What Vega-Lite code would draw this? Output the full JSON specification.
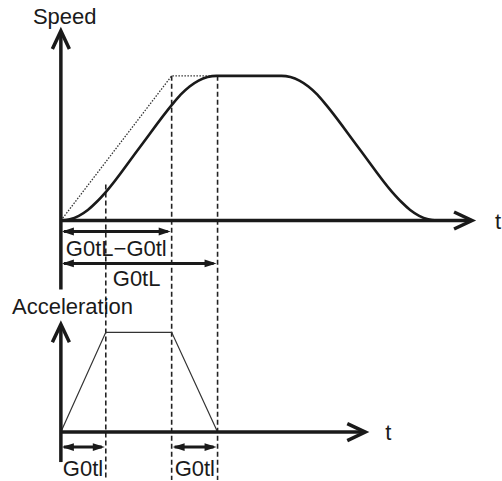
{
  "$schema": "https://vega.github.io/schema/vega-lite/v6.json",
  "width": 502,
  "height": 481,
  "autosize": {"type": "fit", "contains": "padding"},
  "padding": 0,
  "background": "white",
  "config": {"view": {"stroke": null}},
  "datasets": {
    "axes": [
      {"x": 61, "y": 221, "x2": 470, "y2": 221},
      {"x": 61, "y": 34, "x2": 61, "y2": 290},
      {"x": 61, "y": 433, "x2": 363, "y2": 433},
      {"x": 61, "y": 328, "x2": 61, "y2": 463}
    ],
    "chevrons": [
      {"x": 473, "y": 221, "angle": 0},
      {"x": 61, "y": 31, "angle": 270},
      {"x": 366, "y": 433, "angle": 0},
      {"x": 61, "y": 325, "angle": 270}
    ],
    "dims": [
      {"x": 64, "x2": 168, "y": 232},
      {"x": 64, "x2": 214, "y": 264},
      {"x": 64, "x2": 102, "y": 448},
      {"x": 175, "x2": 214, "y": 448}
    ],
    "heads": [
      {"x": 62, "y": 232, "angle": 180},
      {"x": 171, "y": 232, "angle": 0},
      {"x": 62, "y": 264, "angle": 180},
      {"x": 217, "y": 264, "angle": 0},
      {"x": 62, "y": 448, "angle": 180},
      {"x": 105, "y": 448, "angle": 0},
      {"x": 173, "y": 448, "angle": 180},
      {"x": 217, "y": 448, "angle": 0}
    ],
    "ideal": [
      {"x": 61, "y": 221},
      {"x": 172, "y": 76},
      {"x": 218, "y": 76}
    ],
    "guides": [
      {"x": 106, "y": 185, "y2": 481},
      {"x": 172, "y": 76, "y2": 481},
      {"x": 218, "y": 76, "y2": 481}
    ],
    "speed": [
      {"x": 61, "y": 221}, {"x": 70, "y": 219.8}, {"x": 79, "y": 216.3}, {"x": 88, "y": 210.4},
      {"x": 97, "y": 202.2}, {"x": 106, "y": 192.5}, {"x": 139, "y": 149}, {"x": 172, "y": 105.4},
      {"x": 181, "y": 94.8}, {"x": 190, "y": 86.6}, {"x": 199, "y": 80.7}, {"x": 208, "y": 77.2},
      {"x": 217, "y": 76}, {"x": 250, "y": 76}, {"x": 282, "y": 76}, {"x": 291, "y": 77.2},
      {"x": 300, "y": 80.7}, {"x": 309, "y": 86.6}, {"x": 318, "y": 94.8}, {"x": 327, "y": 105.4},
      {"x": 360, "y": 149}, {"x": 393, "y": 192.5}, {"x": 402, "y": 202.2}, {"x": 411, "y": 210.4},
      {"x": 420, "y": 216.3}, {"x": 429, "y": 219.8}, {"x": 438, "y": 221}
    ],
    "accel": [
      {"x": 61, "y": 433},
      {"x": 106, "y": 333},
      {"x": 172, "y": 333},
      {"x": 218, "y": 433}
    ],
    "labels": [
      {"x": 33, "y": 17, "text": "Speed"},
      {"x": 496, "y": 222, "text": "t"},
      {"x": 66, "y": 250, "text": "G0tL−G0tl"},
      {"x": 113, "y": 280, "text": "G0tL"},
      {"x": 12, "y": 308, "text": "Acceleration"},
      {"x": 386, "y": 434, "text": "t"},
      {"x": 63, "y": 470, "text": "G0tl"},
      {"x": 175, "y": 470, "text": "G0tl"}
    ]
  },
  "layer": [
    {
      "data": {"name": "guides"},
      "mark": {"type": "rule", "color": "#222", "strokeWidth": 1.6, "strokeDash": [5, 3]},
      "encoding": {
        "x": {"field": "x", "type": "quantitative", "scale": {"domain": [0, 502], "nice": false, "zero": false}, "axis": null},
        "y": {"field": "y", "type": "quantitative", "scale": {"domain": [0, 481], "nice": false, "zero": false, "reverse": true}, "axis": null},
        "y2": {"field": "y2"}
      }
    },
    {
      "data": {"name": "ideal"},
      "mark": {"type": "line", "color": "#333", "strokeWidth": 1.3, "strokeDash": [1.5, 1.5]},
      "encoding": {
        "x": {"field": "x", "type": "quantitative", "axis": null},
        "y": {"field": "y", "type": "quantitative", "axis": null}
      }
    },
    {
      "data": {"name": "speed"},
      "mark": {"type": "line", "color": "#1a1a1a", "strokeWidth": 2.6, "interpolate": "monotone"},
      "encoding": {
        "x": {"field": "x", "type": "quantitative", "axis": null},
        "y": {"field": "y", "type": "quantitative", "axis": null}
      }
    },
    {
      "data": {"name": "accel"},
      "mark": {"type": "line", "color": "#333", "strokeWidth": 1.2},
      "encoding": {
        "x": {"field": "x", "type": "quantitative", "axis": null},
        "y": {"field": "y", "type": "quantitative", "axis": null}
      }
    },
    {
      "data": {"name": "axes"},
      "mark": {"type": "rule", "color": "#1a1a1a", "strokeWidth": 3.5},
      "encoding": {
        "x": {"field": "x", "type": "quantitative", "axis": null},
        "y": {"field": "y", "type": "quantitative", "axis": null},
        "x2": {"field": "x2"},
        "y2": {"field": "y2"}
      }
    },
    {
      "data": {"name": "chevrons"},
      "mark": {"type": "point", "shape": "M-1.8,-0.85L0,0L-1.8,0.85", "size": 400, "filled": false, "stroke": "#1a1a1a", "strokeWidth": 3.5, "opacity": 1, "strokeJoin": "miter"},
      "encoding": {
        "x": {"field": "x", "type": "quantitative", "axis": null},
        "y": {"field": "y", "type": "quantitative", "axis": null},
        "angle": {"field": "angle", "type": "quantitative", "scale": null}
      }
    },
    {
      "data": {"name": "dims"},
      "mark": {"type": "rule", "color": "#1a1a1a", "strokeWidth": 3},
      "encoding": {
        "x": {"field": "x", "type": "quantitative", "axis": null},
        "x2": {"field": "x2"},
        "y": {"field": "y", "type": "quantitative", "axis": null}
      }
    },
    {
      "data": {"name": "heads"},
      "mark": {"type": "point", "shape": "M0,0L-2,-0.65L-2,0.65Z", "size": 144, "filled": true, "color": "#1a1a1a", "opacity": 1},
      "encoding": {
        "x": {"field": "x", "type": "quantitative", "axis": null},
        "y": {"field": "y", "type": "quantitative", "axis": null},
        "angle": {"field": "angle", "type": "quantitative", "scale": null}
      }
    },
    {
      "data": {"name": "labels"},
      "mark": {"type": "text", "font": "Liberation Sans", "fontSize": 22, "align": "left", "baseline": "middle", "color": "#1a1a1a"},
      "encoding": {
        "x": {"field": "x", "type": "quantitative", "axis": null},
        "y": {"field": "y", "type": "quantitative", "axis": null},
        "text": {"field": "text"}
      }
    }
  ]
}
